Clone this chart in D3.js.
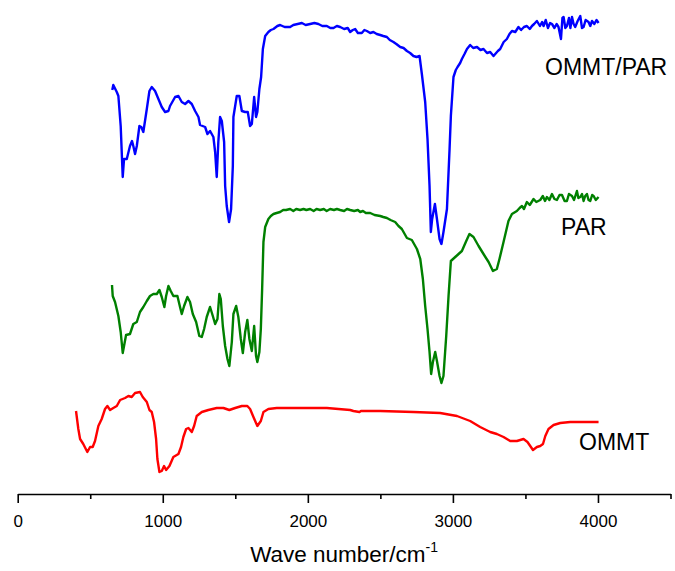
<!DOCTYPE html>
<html lang="en">
<head>
  <meta charset="UTF-8">
  <title>FTIR spectra: OMMT/PAR, PAR, OMMT</title>
  <script src="https://d3js.org/d3.v7.min.js"></script>
  <style>
    body {
      margin: 0;
      background: #fff;
    }
    svg {
      display: block;
      font-family: "Liberation Sans", Arial, sans-serif;
    }
  </style>
</head>
<body>
<svg width="675" height="571"></svg>

<script>
  // wave numbers (cm-1) and relative transmittance (offset, a.u.)
  const ommtParWn = [652, 659, 683, 694, 710, 724, 733, 752, 774, 788, 797, 809, 821, 839, 852, 866, 890, 908, 924, 947, 970, 993, 1016, 1039, 1050, 1085, 1108, 1131, 1154, 1177, 1200, 1223, 1246, 1257, 1292, 1308, 1326, 1349, 1361, 1372, 1383, 1395, 1407, 1423, 1430, 1441, 1457, 1471, 1483, 1487, 1499, 1510, 1528, 1545, 1568, 1586, 1602, 1614, 1630, 1643, 1652, 1666,
    1678, 1690, 1706, 1728, 1745, 1763, 1790, 1809, 1840, 1878, 1900, 1930, 1959, 1985, 2016, 2045, 2073, 2100, 2131, 2155, 2177, 2200, 2223, 2250, 2275, 2292, 2310, 2326, 2345, 2372, 2390, 2407, 2430, 2452, 2475, 2499, 2520, 2545, 2565, 2590, 2610, 2637, 2660, 2683, 2705, 2728, 2750, 2770,
    2786, 2809, 2825, 2839, 2848, 2857, 2876, 2890, 2908, 2921, 2935, 2959, 2977, 2986, 3004,
    3020, 3032, 3050, 3062, 3080, 3097, 3119, 3140, 3166, 3190, 3211, 3235, 3257, 3280, 3292, 3310, 3326, 3350, 3372, 3390, 3407, 3430, 3452, 3470, 3490, 3510, 3530, 3545, 3560, 3579, 3600, 3615, 3625, 3640, 3655, 3670, 3683, 3700, 3715, 3728, 3745, 3755, 3763, 3775, 3786, 3800, 3810, 3821, 3832, 3843, 3860, 3878, 3890, 3901, 3915, 3935, 3947, 3959, 3975, 3990, 4004];
  const ommtParT = [404, 409, 402, 398, 368, 317, 335, 335, 348, 353, 348, 340, 348, 368, 367, 362, 385, 403, 407, 403, 395, 387, 382, 383, 388, 397, 398, 392, 390, 393, 390, 383, 377, 369, 367, 360, 363, 357, 342, 317, 352, 377, 373, 352, 308, 288, 272, 285, 328, 377, 388, 398, 398, 383, 382, 382, 368, 370, 397, 377, 382, 405,
    417, 445, 458, 462, 464, 465, 468, 469, 467, 467, 469, 470, 471, 469, 470, 471, 470, 468, 468, 466, 466, 468, 467, 465, 466, 462, 464, 465, 461, 461, 464, 463, 461, 462, 460, 459, 458, 457, 454, 452, 450, 447, 446, 443, 441, 438, 437, 438,
    420, 392, 355, 308, 262, 275, 290, 275, 255, 250, 262, 285, 345, 378, 417,
    424, 427, 431, 435, 440, 445, 449, 446, 447, 444, 445, 441, 442, 438, 440, 443, 445, 452, 455, 460, 463, 462, 467, 464, 467, 468, 465, 468, 470, 473, 468, 472, 468, 474, 466, 471, 470, 466, 470, 467, 455, 476, 477, 466, 468, 476, 466, 477, 470, 467, 473, 478, 466, 467, 474, 472, 468, 473, 470, 474, 471];

  const parWn = [650, 655, 671, 694, 710, 724, 733, 747, 774, 797, 821, 843, 866, 890, 912, 935, 959, 977, 993, 1011, 1023, 1039, 1055, 1073, 1101, 1119, 1131, 1147, 1170, 1188, 1207, 1230, 1252, 1269, 1285, 1303, 1326, 1345, 1361, 1377, 1390, 1400, 1414, 1430, 1446, 1459, 1476, 1487, 1506, 1521, 1538, 1552, 1568, 1583, 1597, 1614, 1630, 1643, 1652, 1666, 1676, 1685, 1694,
    1706, 1728, 1745, 1763, 1785, 1809, 1830, 1850, 1878, 1900, 1920, 1947, 1970, 1990, 2016, 2040, 2060, 2085, 2110, 2130, 2154, 2180, 2200, 2223, 2250, 2270, 2292, 2320, 2345, 2361, 2380, 2400, 2430, 2460, 2499, 2520, 2545, 2570, 2602, 2625, 2648, 2683, 2717, 2752, 2775, 2793,
    2809, 2825, 2839, 2850, 2862, 2878, 2890, 2908, 2921, 2935, 2954, 2970, 2986, 3016, 3039, 3062, 3092, 3114, 3142, 3177, 3211, 3246, 3276, 3303, 3321, 3349, 3383, 3407, 3441, 3460, 3476, 3490, 3510, 3530, 3556, 3575, 3602, 3620, 3635, 3648, 3665, 3683, 3700, 3717, 3735, 3752, 3770, 3786, 3800, 3821, 3835, 3855, 3865, 3878, 3890, 3901, 3912, 3924, 3935, 3947, 3960, 3970, 3985, 4004];
  const parT = [209, 198, 192, 178, 162, 141, 148, 159, 160, 170, 172, 182, 187, 193, 198, 200, 200, 204, 197, 187, 198, 208, 203, 198, 198, 187, 180, 188, 197, 192, 180, 172, 158, 157, 165, 177, 187, 178, 170, 175, 200, 195, 168, 148, 135, 128, 152, 180, 188, 177, 155, 141, 162, 174, 155, 143, 168, 138, 132, 142, 165, 205, 252,
    267, 275, 278, 280, 281, 282, 284, 284, 285, 283, 285, 284, 285, 284, 285, 283, 285, 284, 285, 283, 285, 284, 285, 284, 283, 285, 284, 283, 284, 282, 283, 281, 281, 279, 278, 277, 276, 274, 272, 268, 265, 256, 254, 245, 235, 215,
    188, 165, 142, 120, 132, 142, 133, 118, 111, 118, 158, 198, 233, 237, 240, 243, 253, 260, 257, 248, 240, 232, 223, 225, 235, 252, 273, 280, 283, 286, 288, 285, 292, 289, 295, 292, 294, 298, 293, 297, 294, 300, 295, 294, 299, 299, 293, 293, 300, 298, 294, 303, 296, 297, 300, 293, 298, 300, 294, 293, 299, 298, 294, 297];

  const ommtWn = [402, 418, 430, 452, 480, 499, 517, 533, 556, 579, 602, 618, 637, 659, 683, 706, 740, 763, 786, 809, 843, 862, 890, 908, 924, 940, 954, 963, 977, 993, 1009, 1023, 1046, 1073, 1108, 1126, 1142, 1161, 1177, 1200, 1216, 1234, 1269, 1314, 1372, 1418, 1459, 1499, 1545, 1583, 1602, 1625, 1652, 1676, 1694, 1728, 1786, 1947, 2131, 2292, 2314, 2356, 2366, 2499, 2728, 2912, 3028, 3119, 3188, 3257, 3303, 3349, 3395, 3441, 3487, 3514, 3533, 3552, 3579, 3602, 3621, 3637, 3659, 3694, 3740, 3809, 3924, 4004];
  const ommtT = [83, 65, 55, 50, 42, 47, 47, 53, 68, 75, 85, 88, 84, 86, 88, 94, 96, 98, 97, 101, 102, 97, 92, 84, 82, 72, 55, 35, 22, 23, 28, 24, 28, 37, 40, 47, 57, 65, 66, 62, 68, 78, 82, 84, 86, 86, 84, 86, 88, 88, 85, 77, 68, 73, 82, 85, 86, 86, 86, 84, 83, 82, 83, 83, 82, 81, 78, 73, 67, 62, 60, 57, 53, 53, 55, 52, 48, 44, 47, 48, 50, 58, 65, 69, 71, 72, 72, 72];

  const majorTicks = [0, 1000, 2000, 3000, 4000];
  const minorTicks = [500, 1500, 2500, 3500, 4500];

  const series = [
    { name: "OMMT/PAR", wn: ommtParWn, t: ommtParT, color: "#0000ff", labelX: 545, labelY: 75 },
    { name: "PAR", wn: parWn, t: parT, color: "#008000", labelX: 561, labelY: 235 },
    { name: "OMMT", wn: ommtWn, t: ommtT, color: "#ff0000", labelX: 579, labelY: 450 }
  ];

  const svg = d3.select("svg");
  const axisY = 494;

  const x = d3.scaleLinear().domain([0, 4500]).range([17.7, 670.5]);
  const y = d3.scaleLinear().domain([0, 495]).range([axisY, axisY - 495]);

  const line = d3.line()
    .x(d => x(d[0]))
    .y(d => y(d[1]));

  series.forEach(s => {
    const pts = s.wn.map((w, i) => [w, s.t[i]]);
    svg.append("path")
      .datum(pts)
      .attr("fill", "none")
      .attr("stroke", s.color)
      .attr("stroke-width", 2.4)
      .attr("stroke-linejoin", "round")
      .attr("d", line);

    svg.append("text")
      .attr("x", s.labelX)
      .attr("y", s.labelY)
      .attr("font-size", 23)
      .attr("fill", "#000")
      .text(s.name);
  });

  // x axis: major ticks with labels, minor ticks without
  const gx = svg.append("g").attr("transform", `translate(0,${axisY})`);
  gx.call(d3.axisBottom(x).tickValues(majorTicks).tickSize(9).tickSizeOuter(0).tickFormat(d3.format("d")));
  gx.append("g").call(d3.axisBottom(x).tickValues(minorTicks).tickSize(5).tickSizeOuter(0).tickFormat(""))
    .select(".domain").remove();
  gx.selectAll("line").attr("stroke", "#000").attr("stroke-width", 1.6);
  gx.select(".domain").attr("stroke", "#000").attr("stroke-width", 1.6);
  gx.selectAll(".tick text")
    .attr("font-family", "'Liberation Sans', Arial, sans-serif")
    .attr("font-size", 17)
    .attr("fill", "#000")
    .attr("dy", null)
    .attr("y", 33);

  const title = svg.append("text")
    .attr("x", x(2250))
    .attr("y", 562)
    .attr("text-anchor", "middle")
    .attr("font-size", 22.5)
    .attr("fill", "#000");
  title.append("tspan").text("Wave number/cm");
  title.append("tspan").attr("dy", -10).attr("font-size", 14).text("-1");
</script>
</body>
</html>
